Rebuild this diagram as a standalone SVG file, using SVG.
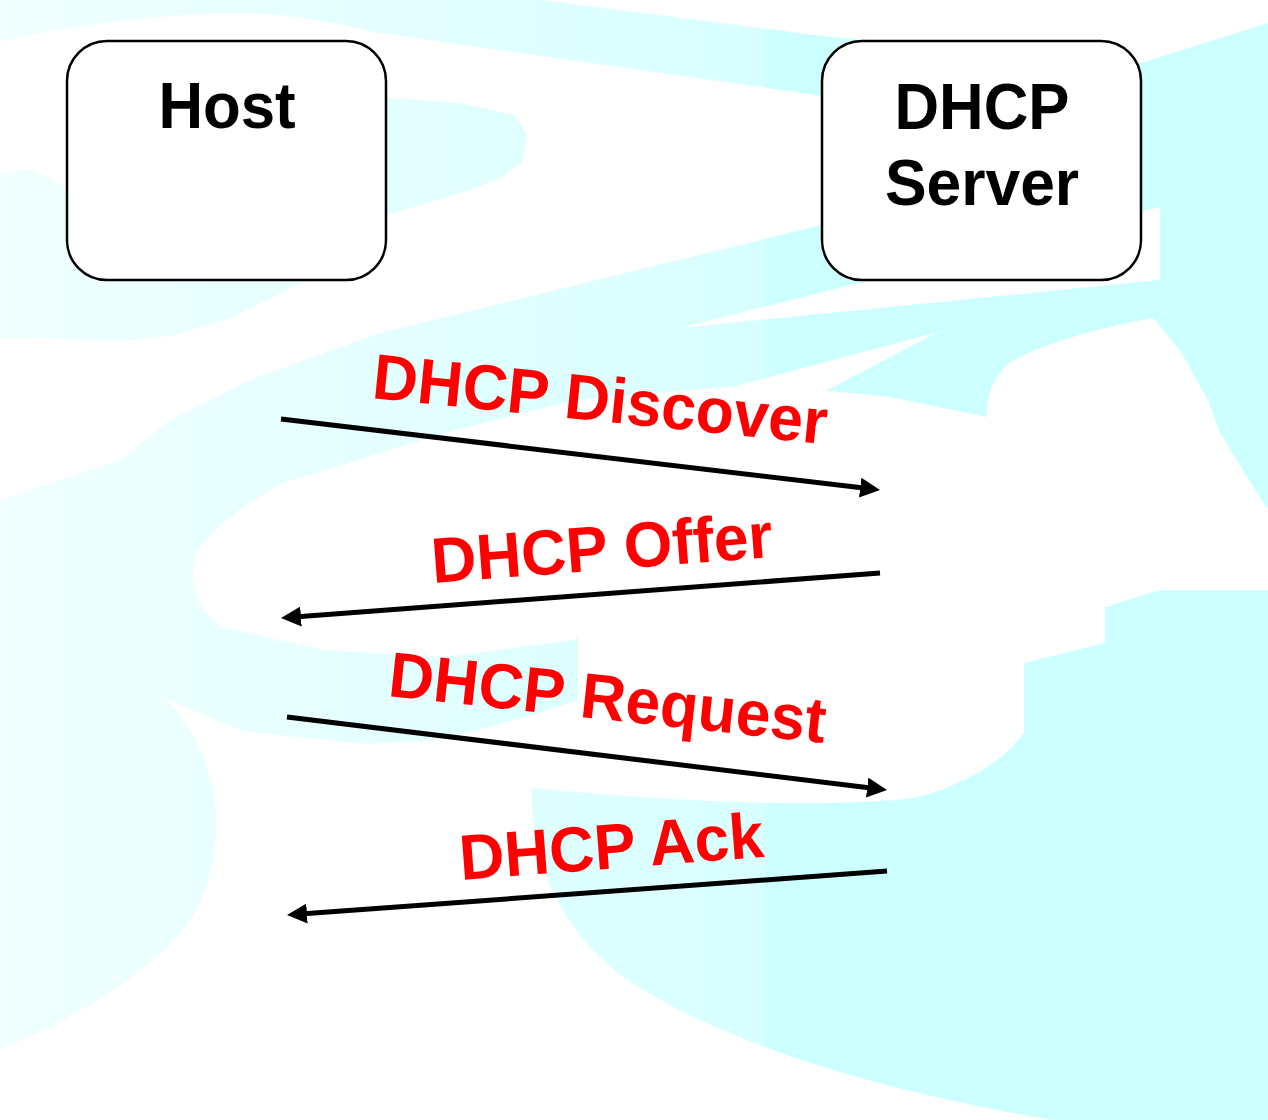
<svg xmlns="http://www.w3.org/2000/svg" width="1268" height="1120" viewBox="0 0 1268 1120">
  <defs>
    <linearGradient id="cy" gradientUnits="userSpaceOnUse" x1="0" y1="0" x2="1268" y2="0">
      <stop offset="0" stop-color="#f0ffff"/>
      <stop offset="0.3" stop-color="#e4ffff"/>
      <stop offset="0.6" stop-color="#d8ffff"/>
      <stop offset="0.606" stop-color="#ccffff"/>
      <stop offset="1" stop-color="#ccffff"/>
    </linearGradient>
    <marker id="ah" viewBox="0 0 20 20" refX="10" refY="10" markerWidth="20" markerHeight="20" markerUnits="userSpaceOnUse" orient="auto">
      <path d="M0,0 L20,10 L0,20 Z" fill="#000"/>
    </marker>
    <style>
      .bg { fill: url(#cy); stroke: none; }
      .wh { fill: #ffffff; stroke: none; }
      .box { fill: #ffffff; stroke: #000; stroke-width: 2.5; }
      .title { font-family: "Liberation Sans", Arial, sans-serif; font-weight: bold; font-size: 64px; fill: #000; text-anchor: middle; }
      .msg { font-family: "Liberation Sans", Arial, sans-serif; font-weight: bold; font-size: 64px; fill: #ff0000; }
      .conn { fill: none; stroke: #000; stroke-width: 5; marker-end: url(#ah); }
    </style>
  </defs>

  <g id="background">
    <rect x="0" y="0" width="1268" height="1120" fill="#ffffff"/>
    <path class="bg" d="M0,0 L540,0 L830,37 L1141,63 L1268,23 L1268,510 L1241,467 L1220,433 L1208,400 L1180,350 L1153,318 Q1060,335 1010,362 Q985,385 987,417 L890,397 L769,385 L728,387 L575,400 L445,433 L283,483 Q215,520 195,555 Q185,600 222,627 L323,650 L445,657 L574,640 L578,637 L578,700 L526,717 L440,740 L364,744 L243,731 L166,699 Q205,740 215,800 Q222,870 190,920 Q140,990 0,1050 Z"/>
    <path class="wh" d="M0,42 C50,28 150,14 240,13 C300,14 340,24 380,33 L830,97 L1000,125 L1000,200 L830,223 L380,333 L250,380 L170,420 L121,460 L0,500 Z"/>
    <path class="bg" d="M0,173 L33,170 L67,187 L380,97 L460,103 L515,115 L527,135 L522,162 L500,178 L470,190 L380,217 L307,280 L283,292 L226,320 L170,336 L121,341 L0,337 Z"/>
    <path class="wh" d="M680,328 L1160,207 L1160,280 Z"/>
    <path class="wh" d="M938,332 L728,388 L820,394 Z"/>
    <path class="bg" d="M1268,590 L1160,590 L1105,607 L1105,643 L1024,663 L1024,733 Q1000,765 957,783 Q930,797 897,800 Q760,810 532,788 Q528,900 620,975 Q760,1070 1052,1120 L1268,1120 Z"/>
  </g>

  <g id="host">
    <rect class="box" x="67" y="41" width="319" height="239" rx="40" ry="40"/>
    <text class="title" transform="translate(227,128) scale(0.965,1)">Host</text>
  </g>

  <g id="dhcp-server">
    <rect class="box" x="822" y="41" width="319" height="239" rx="40" ry="40"/>
    <text class="title" transform="translate(982,129) scale(0.965,1)">DHCP</text>
    <text class="title" transform="translate(982,205) scale(0.975,1)">Server</text>
  </g>

  <g id="connectors">
    <path class="conn" d="M281,419 L870.1,488.8"/>
    <path class="conn" d="M880,573 L291,617.3"/>
    <path class="conn" d="M287,717 L877.1,788.8"/>
    <path class="conn" d="M887,871 L297,914.3"/>
  </g>

  <g id="labels">
    <text class="msg" transform="translate(371,398) rotate(5.81) scale(0.975,1)">DHCP Discover</text>
    <text class="msg" transform="translate(433,583) rotate(-4.37) scale(0.975,1)">DHCP Offer</text>
    <text class="msg" transform="translate(387,696) rotate(6.15) scale(0.975,1)">DHCP Request</text>
    <text class="msg" transform="translate(461,880) rotate(-4.37) scale(0.975,1)">DHCP Ack</text>
  </g>
</svg>
